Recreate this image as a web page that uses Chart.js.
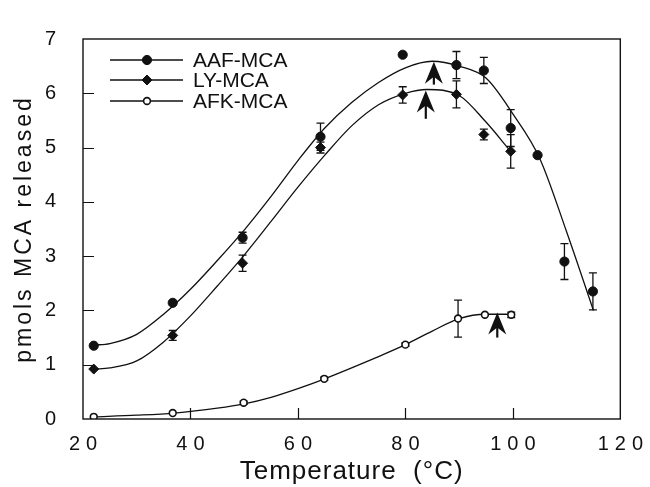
<!DOCTYPE html>
<html>
<head>
<meta charset="utf-8">
<script src="https://cdn.jsdelivr.net/npm/chart.js@4/dist/chart.umd.min.js"></script>
<style>
  html, body { margin: 0; padding: 0; background: #fff; }
  #wrap { width: 650px; height: 487px; }
</style>
</head>
<body>
<div id="wrap"><canvas id="c" width="650" height="487"></canvas></div>
<script>
// ---------- data ----------
const seriesNames = ['AAF-MCA', 'LY-MCA', 'AFK-MCA'];

const aafT   = [22, 36.7, 49.7, 64.2, 79.5, 89.5, 94.6, 99.6, 104.6, 109.6, 114.9];
const aafV   = [1.35, 2.14, 3.34, 5.20, 6.71, 6.52, 6.42, 5.36, 4.86, 2.90, 2.35];
const aafErr = [0, 0, 0.1, 0.25, 0, 0.25, 0.24, 0.34, 0, 0.33, 0.34];

const lyT   = [22, 36.7, 49.7, 64.2, 79.5, 89.5, 94.6, 99.6];
const lyV   = [0.92, 1.54, 2.87, 5.00, 5.97, 5.98, 5.24, 4.93];
const lyErr = [0, 0.09, 0.15, 0.1, 0.15, 0.25, 0.1, 0.31];

const afkT   = [22, 36.7, 49.9, 64.9, 80, 89.8, 94.8, 99.7];
const afkV   = [0.04, 0.11, 0.30, 0.74, 1.37, 1.85, 1.92, 1.92];
const afkErr = [0, 0, 0.03, 0.03, 0.03, 0.34, 0, 0.05];

// fitted curves
const aafFitT = [22, 25, 30, 35, 40, 45, 50, 55, 60, 65, 70, 75, 80, 85, 90, 95, 100, 105, 110, 115];
const aafFitV = [1.36, 1.39, 1.56, 1.93, 2.39, 2.92, 3.48, 4.10, 4.76, 5.36, 5.83, 6.20, 6.47, 6.59, 6.50, 6.28, 5.62, 4.80, 3.45, 2.00];

const lyFitT = [22, 25, 30, 35, 40, 45, 50, 55, 60, 65, 70, 75, 80, 84, 90, 95, 99.5];
const lyFitV = [0.92, 0.94, 1.07, 1.42, 1.90, 2.45, 3.02, 3.64, 4.27, 4.86, 5.40, 5.79, 6.00, 6.07, 5.96, 5.47, 4.94];

const afkFitT = [22, 30, 37, 45, 50, 55, 60, 65, 70, 75, 80, 85, 90, 95, 99.7];
const afkFitV = [0.04, 0.07, 0.11, 0.20, 0.28, 0.40, 0.56, 0.74, 0.94, 1.15, 1.37, 1.62, 1.85, 1.93, 1.93];

// arrows marking optima
const arrowT    = [85.3, 83.8, 97.1];
const arrowTip  = [6.58, 6.05, 1.96];
const arrowTail = [6.16, 5.53, 1.50];

const xTicks = [20, 40, 60, 80, 100, 120];
const yTicks = [0, 1, 2, 3, 4, 5, 6, 7];

// ---------- helpers ----------
const FONT = "'Liberation Sans', Arial, Helvetica, sans-serif";
const INK = '#111';
const pts = (xs, ys) => xs.map((x, i) => ({ x: x, y: ys[i] }));

const markerStyles = [
  { pointStyle: 'circle',  radius: 4.6, fill: INK,    border: INK, bw: 1 },
  { pointStyle: 'rectRot', radius: 5,   fill: INK,    border: INK, bw: 1 },
  { pointStyle: 'circle',  radius: 3.4, fill: '#fff', border: INK, bw: 1.6 }
];

function fitDataset(xs, ys) {
  return {
    data: pts(xs, ys), showLine: true, pointRadius: 0, borderColor: INK,
    borderWidth: 1.3, cubicInterpolationMode: 'monotone', fill: false, order: 2
  };
}
function pointDataset(label, xs, ys, errs, m) {
  return {
    label: label, data: pts(xs, ys), errors: errs, showLine: false,
    pointStyle: m.pointStyle, pointRadius: m.radius, pointBackgroundColor: m.fill,
    pointBorderColor: m.border, pointBorderWidth: m.bw, order: 1, isPoints: true
  };
}

function withSpacing(scale, method, spacing) {
  if (!scale || scale['_ls_' + method]) return;
  const orig = scale[method];
  scale[method] = function () {
    const c = this.ctx; c.save(); c.letterSpacing = spacing; orig.apply(this, arguments); c.restore();
  };
  scale['_ls_' + method] = true;
}

const overlay = {
  id: 'overlay',
  beforeDraw(chart) {
    withSpacing(chart.scales.x, 'drawLabels', '6px');
    withSpacing(chart.scales.y, 'drawTitle', '3px');
    withSpacing(chart.scales.x, 'drawTitle', '1px');
  },
  beforeDatasetsDraw(chart) {
    const ctx = chart.ctx, xs = chart.scales.x, ys = chart.scales.y;
    ctx.save();
    ctx.strokeStyle = INK; ctx.lineWidth = 1.3;
    chart.data.datasets.forEach(ds => {
      if (!ds.isPoints) return;
      ds.data.forEach((p, i) => {
        const e = ds.errors[i];
        if (!e) return;
        const px = xs.getPixelForValue(p.x);
        const y1 = ys.getPixelForValue(p.y + e), y2 = ys.getPixelForValue(p.y - e);
        ctx.beginPath();
        ctx.moveTo(px, y1); ctx.lineTo(px, y2);
        ctx.moveTo(px - 4, y1); ctx.lineTo(px + 4, y1);
        ctx.moveTo(px - 4, y2); ctx.lineTo(px + 4, y2);
        ctx.stroke();
      });
    });
    ctx.restore();
  },
  afterDraw(chart) {
    const ctx = chart.ctx, xs = chart.scales.x, ys = chart.scales.y, a = chart.chartArea;
    ctx.save();
    // frame
    ctx.strokeStyle = INK; ctx.lineWidth = 1.4;
    ctx.strokeRect(a.left, a.top, a.right - a.left, a.bottom - a.top);
    // inward ticks
    ctx.lineWidth = 1.2;
    ctx.beginPath();
    xTicks.slice(1, -1).forEach(v => {
      const px = Math.round(xs.getPixelForValue(v)) + 0.5;
      ctx.moveTo(px, a.bottom); ctx.lineTo(px, a.bottom - 11);
    });
    yTicks.slice(1, -1).forEach(v => {
      const py = Math.round(ys.getPixelForValue(v)) + 0.5;
      ctx.moveTo(a.left, py); ctx.lineTo(a.left + 11, py);
    });
    ctx.stroke();
    // arrows
    ctx.fillStyle = INK; ctx.strokeStyle = INK;
    arrowT.forEach((t, i) => {
      const x = xs.getPixelForValue(t);
      const yt = ys.getPixelForValue(arrowTip[i]);
      const yb = ys.getPixelForValue(arrowTail[i]);
      ctx.beginPath();
      ctx.moveTo(x, yt);
      ctx.lineTo(x + 9, yt + 22);
      ctx.lineTo(x, yt + 15);
      ctx.lineTo(x - 9, yt + 22);
      ctx.closePath();
      ctx.fill();
      ctx.lineWidth = 2.2;
      ctx.beginPath(); ctx.moveTo(x, yt + 12); ctx.lineTo(x, Math.max(yb, yt + 22)); ctx.stroke();
    });
    // legend
    const rows = [60, 80, 101];
    ctx.font = '21px ' + FONT;
    ctx.textBaseline = 'middle'; ctx.textAlign = 'left';
    seriesNames.forEach((name, i) => {
      const y = rows[i], m = markerStyles[i];
      ctx.strokeStyle = INK; ctx.lineWidth = 1.3;
      ctx.beginPath(); ctx.moveTo(110, y); ctx.lineTo(183, y); ctx.stroke();
      ctx.fillStyle = m.fill; ctx.strokeStyle = m.border; ctx.lineWidth = m.bw;
      Chart.helpers.drawPoint(ctx, { pointStyle: m.pointStyle, radius: m.radius, rotation: 0, borderWidth: m.bw }, 147, y);
      ctx.fillStyle = INK;
      ctx.fillText(name, 193, y + 1);
    });
    ctx.restore();
  }
};

new Chart(document.getElementById('c'), {
  type: 'scatter',
  data: {
    datasets: [
      fitDataset(aafFitT, aafFitV),
      fitDataset(lyFitT, lyFitV),
      fitDataset(afkFitT, afkFitV),
      pointDataset(seriesNames[0], aafT, aafV, aafErr, markerStyles[0]),
      pointDataset(seriesNames[1], lyT, lyV, lyErr, markerStyles[1]),
      pointDataset(seriesNames[2], afkT, afkV, afkErr, markerStyles[2])
    ]
  },
  options: {
    responsive: false,
    animation: false,
    devicePixelRatio: 1,
    layout: { padding: { top: 19, right: 28, left: 0, bottom: 0 } },
    plugins: { legend: { display: false }, tooltip: { enabled: false } },
    scales: {
      x: {
        type: 'linear', min: 20, max: 120,
        afterBuildTicks: s => { s.ticks = xTicks.map(v => ({ value: v })); },
        afterFit: s => { s.height = 68; },
        grid: { display: false, drawTicks: false },
        border: { display: false },
        ticks: { color: INK, font: { family: FONT, size: 20 }, padding: 13, labelOffset: 3, maxRotation: 0, autoSkip: false },
        title: { display: true, text: 'Temperature  (°C)', color: INK, font: { family: FONT, size: 26 }, padding: { top: 0, bottom: 0 } }
      },
      y: {
        type: 'linear', min: 0, max: 7,
        afterBuildTicks: s => { s.ticks = yTicks.map(v => ({ value: v })); },
        afterFit: s => { s.width = 83; },
        grid: { display: false, drawTicks: false },
        border: { display: false },
        ticks: { color: INK, font: { family: FONT, size: 20 }, padding: 27 },
        title: { display: true, text: 'pmols MCA released', color: INK, font: { family: FONT, size: 23 }, padding: { top: 11, bottom: 0 } }
      }
    }
  },
  plugins: [overlay]
});
</script>
</body>
</html>
